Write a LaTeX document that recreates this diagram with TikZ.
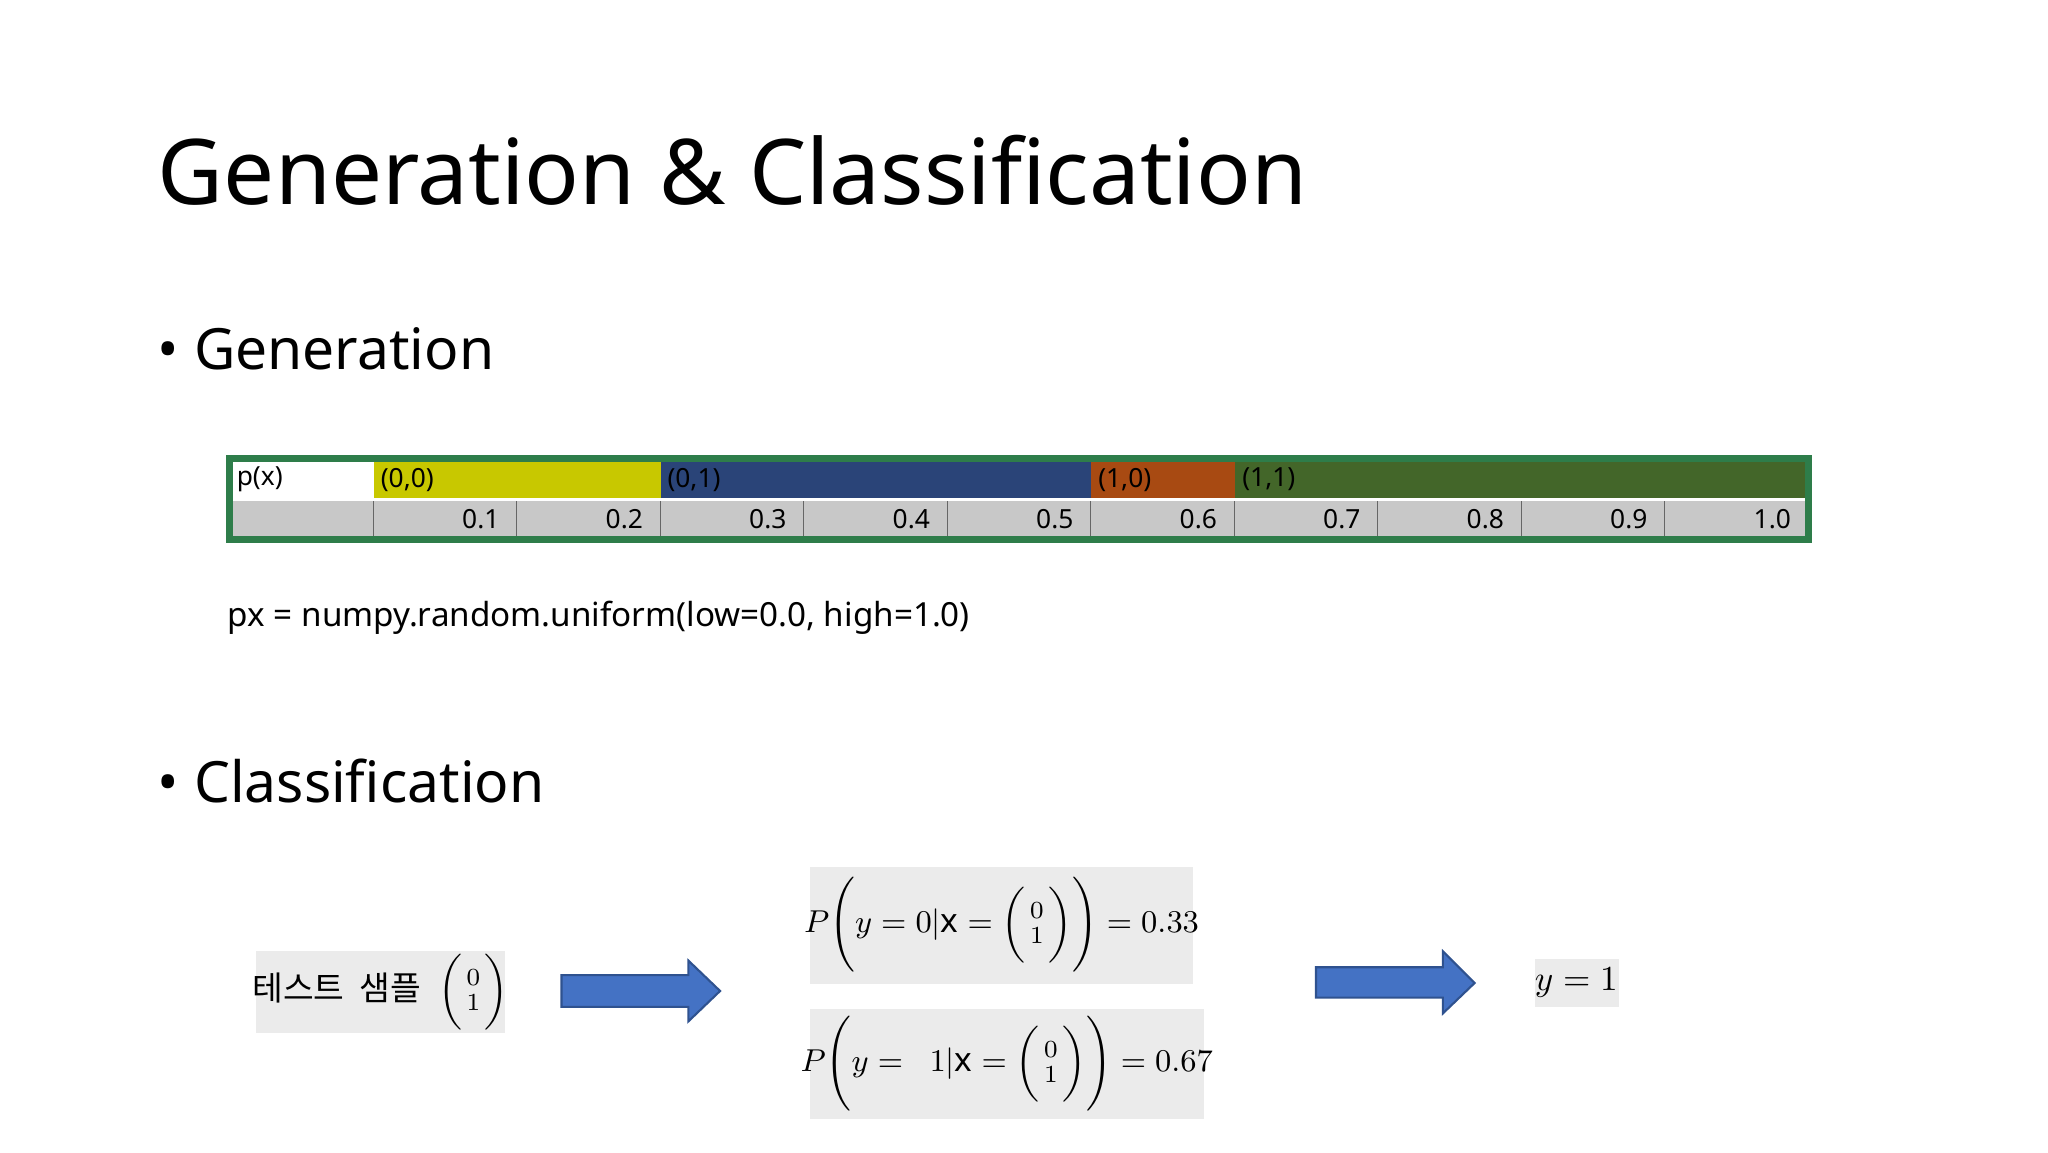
\documentclass[tikz,border=0pt]{standalone}
\usepackage{fontspec}
\usepackage{amsmath}
\setmainfont{Noto Sans}
\newfontfamily\kr{Noto Sans CJK KR}
\definecolor{cy}{HTML}{C8C800}
\definecolor{cb}{HTML}{2A4478}
\definecolor{co}{HTML}{A84A12}
\definecolor{cg}{HTML}{436629}
\definecolor{cbord}{HTML}{2E7D4A}
\definecolor{cgray}{HTML}{C8C8C8}
\definecolor{cbox}{HTML}{EBEBEB}
\definecolor{carr}{HTML}{4472C4}
\definecolor{carrd}{HTML}{2F528F}
\tikzset{lab/.style={font=\fontsize{7.5}{8}\selectfont,inner sep=1pt},
 barrow/.style={fill=carr,draw=carrd,line width=0.6pt}}
\begin{document}
\begin{tikzpicture}[x=0.013213cm,y=-0.013213cm]
\useasboundingbox (0,0) rectangle (1550,872);
\node[anchor=base west,inner sep=0,font=\fontsize{25.8}{30}\selectfont] (title) at (119,155) {Generation \& Classification};
\node[anchor=base west,inner sep=0,font=\fontsize{16.2}{20}\selectfont] (b1) at (119,280) {\textbullet\ Generation};
\node[anchor=base west,inner sep=0,font=\fontsize{16.2}{20}\selectfont] (b2) at (119,607) {\textbullet\ Classification};
% bar
\fill[white] (174,347) rectangle (283,378);
\fill[cy] (283,347) rectangle (500,378);
\fill[cb] (500,347) rectangle (826,378);
\fill[co] (826,347) rectangle (935,378);
\fill[cg] (935,347) rectangle (1369,378);
\fill[cgray] (174,378) rectangle (1369,408);
\foreach \i in {1,...,10}{\draw[gray!80!black,line width=0.3pt] ({174+\i*108.6},378) -- ({174+\i*108.6},408);}
\draw[white,line width=0.8pt] (174,378) -- (1369,378);
\draw[cbord,line width=2pt] (174,347) rectangle (1369,408);
\node[lab,anchor=west] (px) at (176,363) {p(x)};
\node[lab,anchor=west] (l00) at (285,363) {(0,0)};
\node[lab,anchor=west] (l01) at (502,363) {(0,1)};
\node[lab,anchor=west] (l10) at (828,363) {(1,0)};
\node[lab,anchor=west] (l11) at (937,363) {(1,1)};
\foreach \i/\t in {1/0.1,2/0.2,3/0.3,4/0.4,5/0.5,6/0.6,7/0.7,8/0.8,9/0.9,10/1.0}{\node[lab,anchor=east] (v\i) at ({174+(\i+1)*108.6-10},393) {\t};}
\node[anchor=base west,inner sep=0,font=\fontsize{9.45}{11}\selectfont] (code) at (172,474) {px = numpy.random.uniform(low=0.0, high=1.0)};
% classification
\fill[cbox] (194,720) rectangle (382,782);
\node[inner sep=0,font=\fontsize{9.5}{11}\selectfont] (ts) at (288,751) {{\kr 테스트\ \ 샘플}\ \ $\biggl(\genfrac{}{}{0pt}{1}{0}{1}\biggr)$};
\fill[cbox] (613,656) rectangle (903,745);
\node[inner sep=0,font=\fontsize{9.5}{12}\selectfont] (p0) at (758,700) {$P\Biggl(y=0|\mathrm{x}=\biggl(\genfrac{}{}{0pt}{1}{0}{1}\biggr)\Biggr)=0.33$};
\fill[cbox] (613,764) rectangle (911,847);
\node[inner sep=0,font=\fontsize{9.5}{12}\selectfont] (p1) at (762,805) {$P\Biggl(y=\ \ 1|\mathrm{x}=\biggl(\genfrac{}{}{0pt}{1}{0}{1}\biggr)\Biggr)=0.67$};
\fill[cbox] (1162,726) rectangle (1225,762);
\node[inner sep=0,font=\fontsize{10}{12}\selectfont] (y1) at (1193,744) {$y=1$};
\draw[barrow] (425,738) -- (521,738) -- (521,727) -- (545,750) -- (521,773) -- (521,762) -- (425,762) -- cycle;
\draw[barrow] (996,732) -- (1092,732) -- (1092,720) -- (1116,744) -- (1092,767) -- (1092,755) -- (996,755) -- cycle;
\end{tikzpicture}
\end{document}
